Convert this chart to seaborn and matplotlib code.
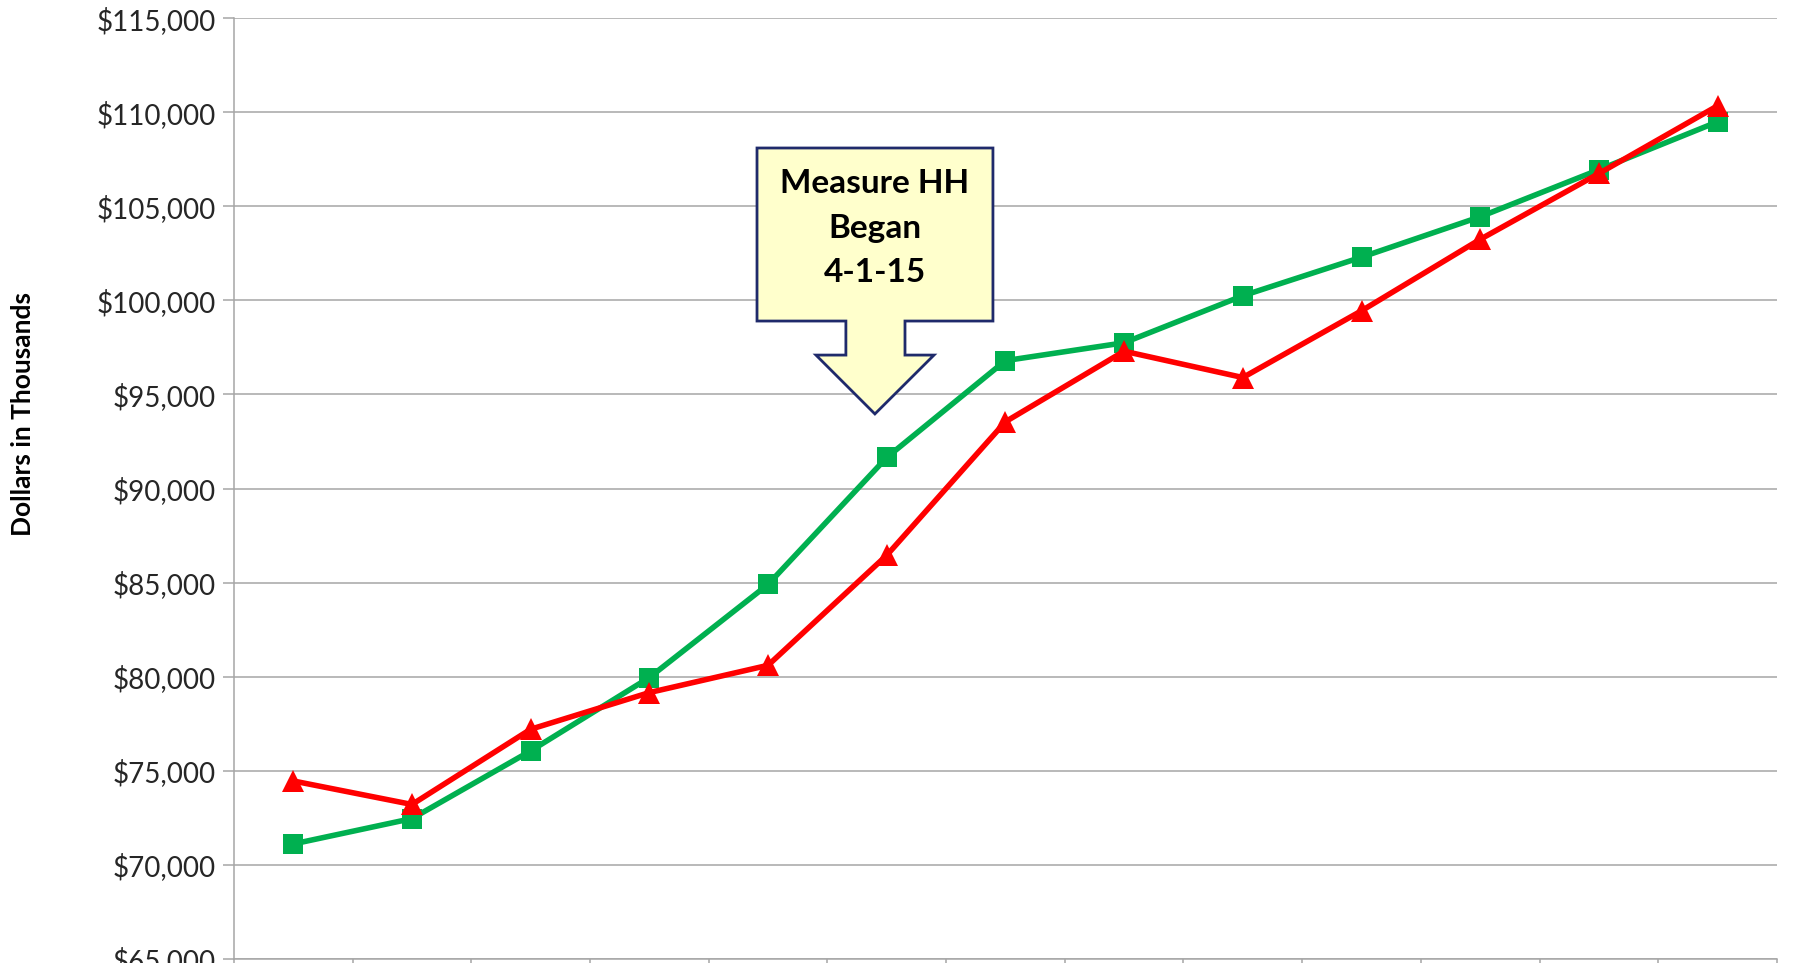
#!/usr/bin/env python3
import pandas as pd
import seaborn as sns
import matplotlib as mpl
import matplotlib.pyplot as plt
from matplotlib.patches import Polygon
from matplotlib.ticker import FuncFormatter, FixedLocator

sns.set_theme(style="white")
mpl.rcParams["font.family"] = ["Lato", "DejaVu Sans"]

# data (x labels fall below the visible area of the picture)
periods = list(range(13))
green_vals = [71100, 72450, 76050, 79950, 84900, 91650, 96800, 97750,
              100250, 102300, 104450, 106950, 109500]
red_vals = [74450, 73200, 77200, 79150, 80600, 86450, 93550, 97300,
            95900, 99450, 103250, 106750, 110350]

df = pd.DataFrame({"period": periods * 2,
                   "value": green_vals + red_vals,
                   "series": ["green"] * 13 + ["red"] * 13})

fig = plt.figure(figsize=(17.98, 9.63), dpi=100)
ax = fig.add_axes([0.1301, 0.00447, 0.8582, 0.9765])

grid_c = "#a6a6a6"
ax.set_ylim(65000, 115000)
ax.set_xlim(-0.5, 12.5)
ax.set_yticks(range(65000, 115001, 5000))
ax.yaxis.set_major_formatter(FuncFormatter(lambda v, p: f"${v:,.0f}"))
ax.xaxis.set_major_locator(FixedLocator([i - 0.5 for i in range(14)]))
ax.set_xticklabels([])
ax.grid(axis="y", color=grid_c, linewidth=1.1)
ax.set_axisbelow(True)
for s in ["top", "right"]:
    ax.spines[s].set_visible(False)
for s in ["left", "bottom"]:
    ax.spines[s].set_color(grid_c)
    ax.spines[s].set_linewidth(1.1)
ax.tick_params(axis="y", length=8, width=1.1, color=grid_c, labelsize=20,
               labelcolor="#262626", pad=5, left=True)
ax.tick_params(axis="x", length=8, width=1.1, color=grid_c, bottom=True)

sns.lineplot(ax=ax, data=df[df["series"] == "green"], x="period", y="value",
             color="#00B050", linewidth=4, marker="s", markersize=14,
             markeredgewidth=0)
sns.lineplot(ax=ax, data=df[df["series"] == "red"], x="period", y="value",
             color="#FF0000", linewidth=4, marker="^", markersize=16,
             markeredgewidth=0)
ax.set_xlabel(None)
ax.set_ylabel(None)

fig.text(0.0128, 0.570, "Dollars in Thousands", rotation=90, ha="center",
         va="center", fontsize=19, fontweight="bold", color="black")

# callout arrow
L, R, T, B = 0.3390, 0.4919, 0.8621, 0.6781
sL, sR, hT = 0.3966, 0.4349, 0.6419
hL, hR, tipx, tipy = 0.3772, 0.4537, 0.4154, 0.5793
pts = [(L, T), (R, T), (R, B), (sR, B), (sR, hT), (hR, hT), (tipx, tipy),
       (hL, hT), (sL, hT), (sL, B), (L, B)]
ax.add_patch(Polygon(pts, closed=True, transform=ax.transAxes,
                     facecolor="#FFFFCC", edgecolor="#1F2A6B", linewidth=2,
                     zorder=5))
ax.text(tipx, 0.777, "Measure HH\nBegan\n4-1-15", transform=ax.transAxes,
        ha="center", va="center", fontsize=24, fontweight="bold",
        color="black", linespacing=1.65, zorder=6)

plt.savefig("out.png", dpi=100)
